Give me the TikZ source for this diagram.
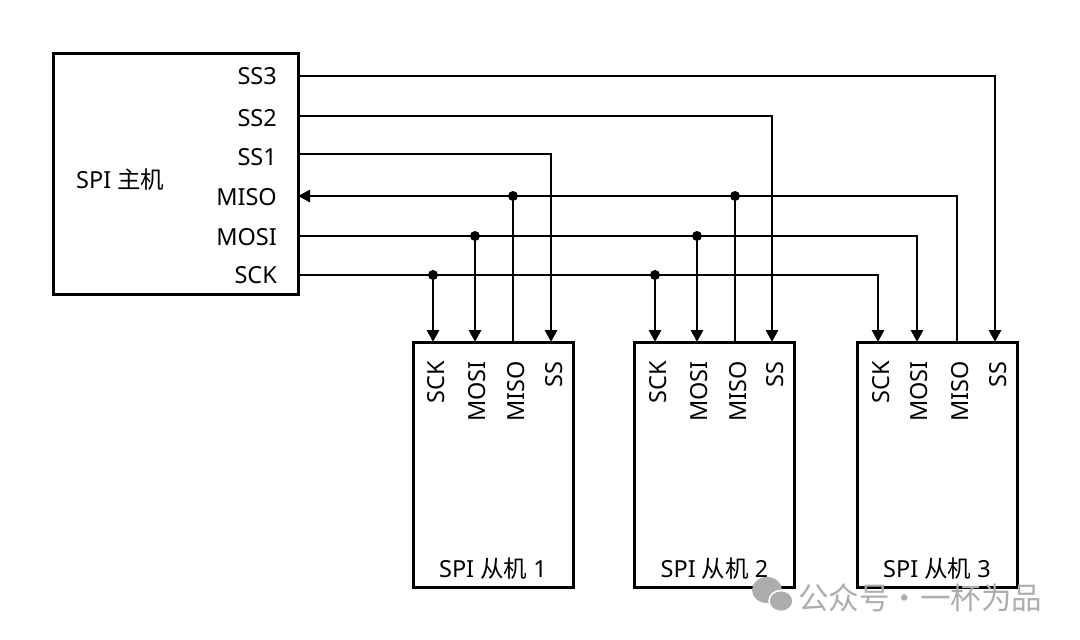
\documentclass[tikz,border=0pt]{standalone}
\usepackage{fontspec}
\setmainfont{Noto Sans}
\newfontfamily\cjk{Noto Sans CJK SC}
\usetikzlibrary{arrows.meta,calc}
\begin{document}
\begin{tikzpicture}[x=1pt,y=-1pt,
  box/.style={draw,line width=3pt,inner sep=0pt},
  wire/.style={line width=2.8pt},
  arr/.style={wire,-{Triangle[length=12pt,width=12pt]}},
  dot/.style={circle,fill,inner sep=0pt,minimum size=10pt},
  lab/.style={font=\fontsize{23.5}{28}\selectfont,inner sep=0pt},
  pin/.style={lab,rotate=90,anchor=east},
]
\useasboundingbox (0,0) rectangle (1080,640);
% master
\node[box,minimum width=245pt,minimum height=241pt] (m) at (175.5,173.5) {};
\node[lab,anchor=west] (mt) at (76,180) {SPI {\cjk 主机}};
\node[lab,anchor=east] (l3) at (277,76) {SS3};
\node[lab,anchor=east] (l2) at (277,118) {SS2};
\node[lab,anchor=east] (l1) at (277,157) {SS1};
\node[lab,anchor=east] (lmiso) at (277,197) {MISO};
\node[lab,anchor=east] (lmosi) at (277,237) {MOSI};
\node[lab,anchor=east] (lsck) at (277,275) {SCK};
\coordinate (mss3) at (298,76);
\coordinate (mss2) at (298,116);
\coordinate (mss1) at (298,154);
\coordinate (mmiso) at (298,196);
\coordinate (mmosi) at (298,236);
\coordinate (msck) at (298,275);
% slaves
\foreach \i/\x in {1/493,2/714.5,3/937}{
  \node[box,minimum width=160pt,minimum height=245pt] (s\i) at (\x,464.5) {};
  \node[lab] (st\i) at (\x,569) {SPI {\cjk 从机} \i};
}
\foreach \i/\a/\b/\c/\d in {1/433/475/513/551,2/655/697/735/772,3/878/917/957/995}{
  \coordinate (sck\i) at (\a,342);
  \coordinate (mosi\i) at (\b,342);
  \coordinate (miso\i) at (\c,342);
  \coordinate (ss\i) at (\d,342);
  \node[pin] (psck\i) at (\a+3,361) {SCK};
  \node[pin] (pmosi\i) at (\b+2,361) {MOSI};
  \node[pin] (pmiso\i) at (\c+3,361) {MISO};
  \node[pin] (pss\i) at (\d+3,361) {SS};
}
% SS lines
\draw[arr] (mss3) -| (ss3);
\draw[arr] (mss2) -| (ss2);
\draw[arr] (mss1) -| (ss1);
% MISO
\draw[arr] (miso3) |- (mmiso);
\draw[wire] (miso1) -- (miso1 |- mmiso) node[dot] (dmiso1) {};
\draw[wire] (miso2) -- (miso2 |- mmiso) node[dot] (dmiso2) {};
% MOSI
\draw[arr] (mmosi) -| (mosi3);
\draw[arr] (mosi1 |- mmosi) node[dot] (dmosi1) {} -- (mosi1);
\draw[arr] (mosi2 |- mmosi) node[dot] (dmosi2) {} -- (mosi2);
% SCK
\draw[arr] (msck) -| (sck3);
\draw[arr] (sck1 |- msck) node[dot] (dsck1) {} -- (sck1);
\draw[arr] (sck2 |- msck) node[dot] (dsck2) {} -- (sck2);
% watermark
\fill[black!32] (767,590) ellipse (15pt and 13pt);
\fill[black!32,draw=white,line width=1.5pt] (781,601) ellipse (12pt and 10.5pt);
\node[lab,anchor=west,text=black!32,font=\fontsize{30.5}{34}\selectfont\cjk] (wm) at (798,598) {公众号・一杯为品};
\end{tikzpicture}
\end{document}
